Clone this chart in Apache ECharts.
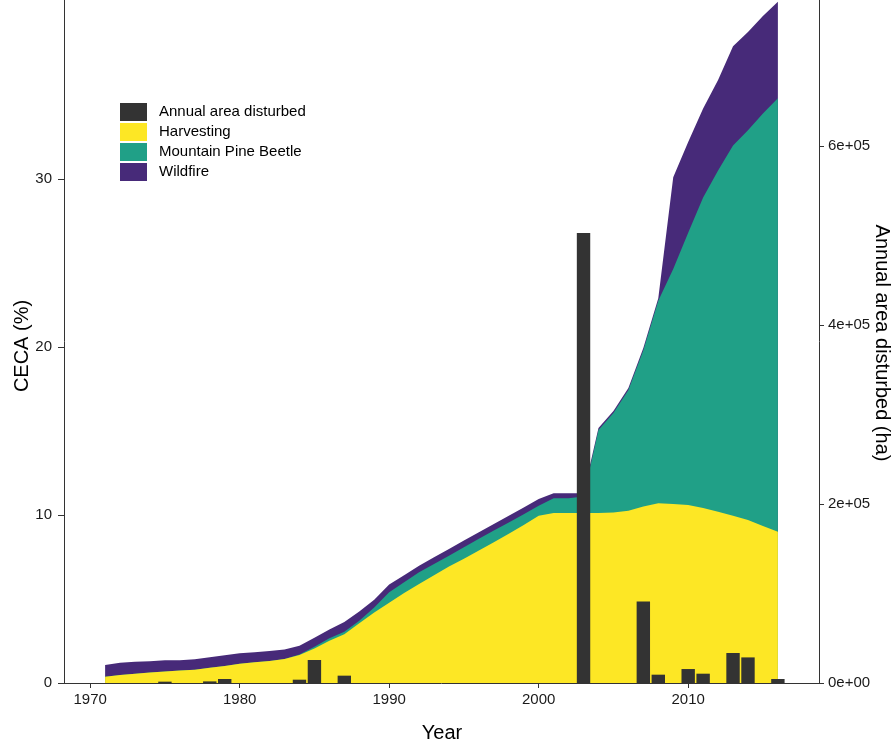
<!DOCTYPE html>
<html>
<head>
<meta charset="utf-8">
<script src="https://cdn.jsdelivr.net/npm/echarts@6/dist/echarts.min.js"></script>
<style>html,body{margin:0;padding:0;background:#fff}#c{width:896px;height:747px}</style>
</head>
<body>
<div id="c"></div>
<script>
var years = [];
for (var yr = 1971; yr <= 2016; yr++) years.push(yr);

var harvesting = [0.37,0.48,0.55,0.62,0.69,0.75,0.79,0.91,1.01,1.14,1.23,1.31,1.43,1.67,2.06,2.52,2.90,3.55,4.20,4.78,5.35,5.89,6.42,6.94,7.40,7.88,8.38,8.88,9.40,9.96,10.12,10.12,10.12,10.12,10.15,10.25,10.5,10.7,10.65,10.6,10.42,10.2,9.95,9.7,9.35,9.0];
var mountainPineBeetle = [0,0,0,0,0,0,0,0,0,0,0,0,0,0.02,0.10,0.14,0.15,0.16,0.30,0.62,0.65,0.70,0.66,0.64,0.68,0.71,0.69,0.68,0.65,0.59,0.87,0.87,0.98,4.94,5.92,7.19,9.30,12.05,13.99,16.2,18.48,20.3,22.05,23.2,24.55,25.8];
var wildfire = [0.70,0.73,0.72,0.68,0.66,0.61,0.62,0.62,0.64,0.63,0.60,0.59,0.57,0.53,0.54,0.53,0.58,0.54,0.45,0.47,0.42,0.39,0.40,0.40,0.40,0.38,0.40,0.40,0.40,0.40,0.30,0.30,0.20,0.12,0.12,0.12,0.14,0.15,5.46,5.4,5.3,5.4,5.9,5.85,5.8,5.75];

var barYears = [1975,1978,1979,1984,1985,1987,2003,2007,2008,2010,2011,2013,2014,2016];
var annualArea = [1500,1800,4500,3700,25700,8200,502800,91200,9300,15600,10400,33500,28600,4500];

var xTicks = [1970,1980,1990,2000,2010];
var leftTicks = [0,10,20,30];
var rightTicks = [0,200000,400000,600000];

function pairs(xs, ys){ return xs.map(function(x,i){ return [x, ys[i]]; }); }
function sci(v){
  if (v === 0) return '0e+00';
  var e = Math.floor(Math.log10(v));
  var m = Math.round(v / Math.pow(10, e) * 100) / 100;
  return m + 'e+' + (e < 10 ? '0' + e : e);
}

// cumulative layer tops (stack order: Harvesting, Mountain Pine Beetle, Wildfire)
var topHarvest = harvesting.slice();
var topMPB = harvesting.map(function(v,i){ return v + mountainPineBeetle[i]; });
var topWildfire = topMPB.map(function(v,i){ return v + wildfire[i]; });

var font = 'Liberation Sans, Arial, sans-serif';
var leftMax = 683 / 16.8;
var rightMax = 683 / 89.5 * 100000;

function areaSeries(name, vals, color, z){
  return {
    name: name, type: 'line', yAxisIndex: 0,
    data: pairs(years, vals), symbol: 'none', smooth: false,
    lineStyle: {width: 0}, areaStyle: {color: color, opacity: 1, origin: 'start'},
    itemStyle: {color: color}, z: z, silent: true
  };
}

var chart = echarts.init(document.getElementById('c'), null, {renderer: 'canvas'});
chart.setOption({
  animation: false,
  backgroundColor: '#ffffff',
  grid: {left: 64, right: 77, top: 0, bottom: 64, containLabel: false},
  legend: {
    orient: 'vertical', left: 120, top: 103, padding: 0,
    itemWidth: 27, itemHeight: 18, itemGap: 2, icon: 'rect',
    data: ['Annual area disturbed','Harvesting','Mountain Pine Beetle','Wildfire'],
    textStyle: {fontFamily: font, fontSize: 15, color: '#000', padding: [0,0,0,7]}
  },
  xAxis: {
    type: 'value', min: 1968.25, max: 2018.75,
    axisLine: {show: true, onZero: false, lineStyle: {color: '#333', width: 1}},
    axisTick: {show: true, length: 5, customValues: xTicks, lineStyle: {color: '#333'}},
    axisLabel: {customValues: xTicks, margin: 9, fontFamily: font, fontSize: 15, color: '#1a1a1a', formatter: function(v){ return String(v); }},
    splitLine: {show: false}
  },
  yAxis: [{
    type: 'value', min: 0, max: leftMax,
    axisLine: {show: true, lineStyle: {color: '#333', width: 1}},
    axisTick: {show: true, length: 6, customValues: leftTicks, lineStyle: {color: '#333'}},
    axisLabel: {customValues: leftTicks, margin: 12, fontFamily: font, fontSize: 15, color: '#1a1a1a'},
    splitLine: {show: false}
  }, {
    type: 'value', min: 0, max: rightMax, position: 'right',
    axisLine: {show: true, lineStyle: {color: '#333', width: 1}},
    axisTick: {show: true, length: 5, customValues: rightTicks, lineStyle: {color: '#333'}},
    axisLabel: {customValues: rightTicks, margin: 9, fontFamily: font, fontSize: 15, color: '#1a1a1a', formatter: sci},
    splitLine: {show: false}
  }],
  graphic: [
    {type: 'text', x: 442, y: 733, style: {text: 'Year', align: 'center', verticalAlign: 'middle', font: '20px ' + font, fill: '#000'}},
    {type: 'text', x: 22, y: 346, rotation: Math.PI / 2, style: {text: 'CECA (%)', align: 'center', verticalAlign: 'middle', font: '20px ' + font, fill: '#000'}},
    {type: 'text', x: 882, y: 343, rotation: -Math.PI / 2, style: {text: 'Annual area disturbed (ha)', align: 'center', verticalAlign: 'middle', font: '20px ' + font, fill: '#000'}}
  ],
  series: [
    areaSeries('Wildfire', topWildfire, '#472A79', 1),
    areaSeries('Mountain Pine Beetle', topMPB, '#20A087', 2),
    areaSeries('Harvesting', topHarvest, '#FDE725', 3),
    {
      name: 'Annual area disturbed', type: 'bar', yAxisIndex: 1,
      data: pairs(barYears, annualArea), barWidth: 13.4,
      itemStyle: {color: '#333333'}, z: 5, silent: true
    }
  ]
});
</script>
</body>
</html>
